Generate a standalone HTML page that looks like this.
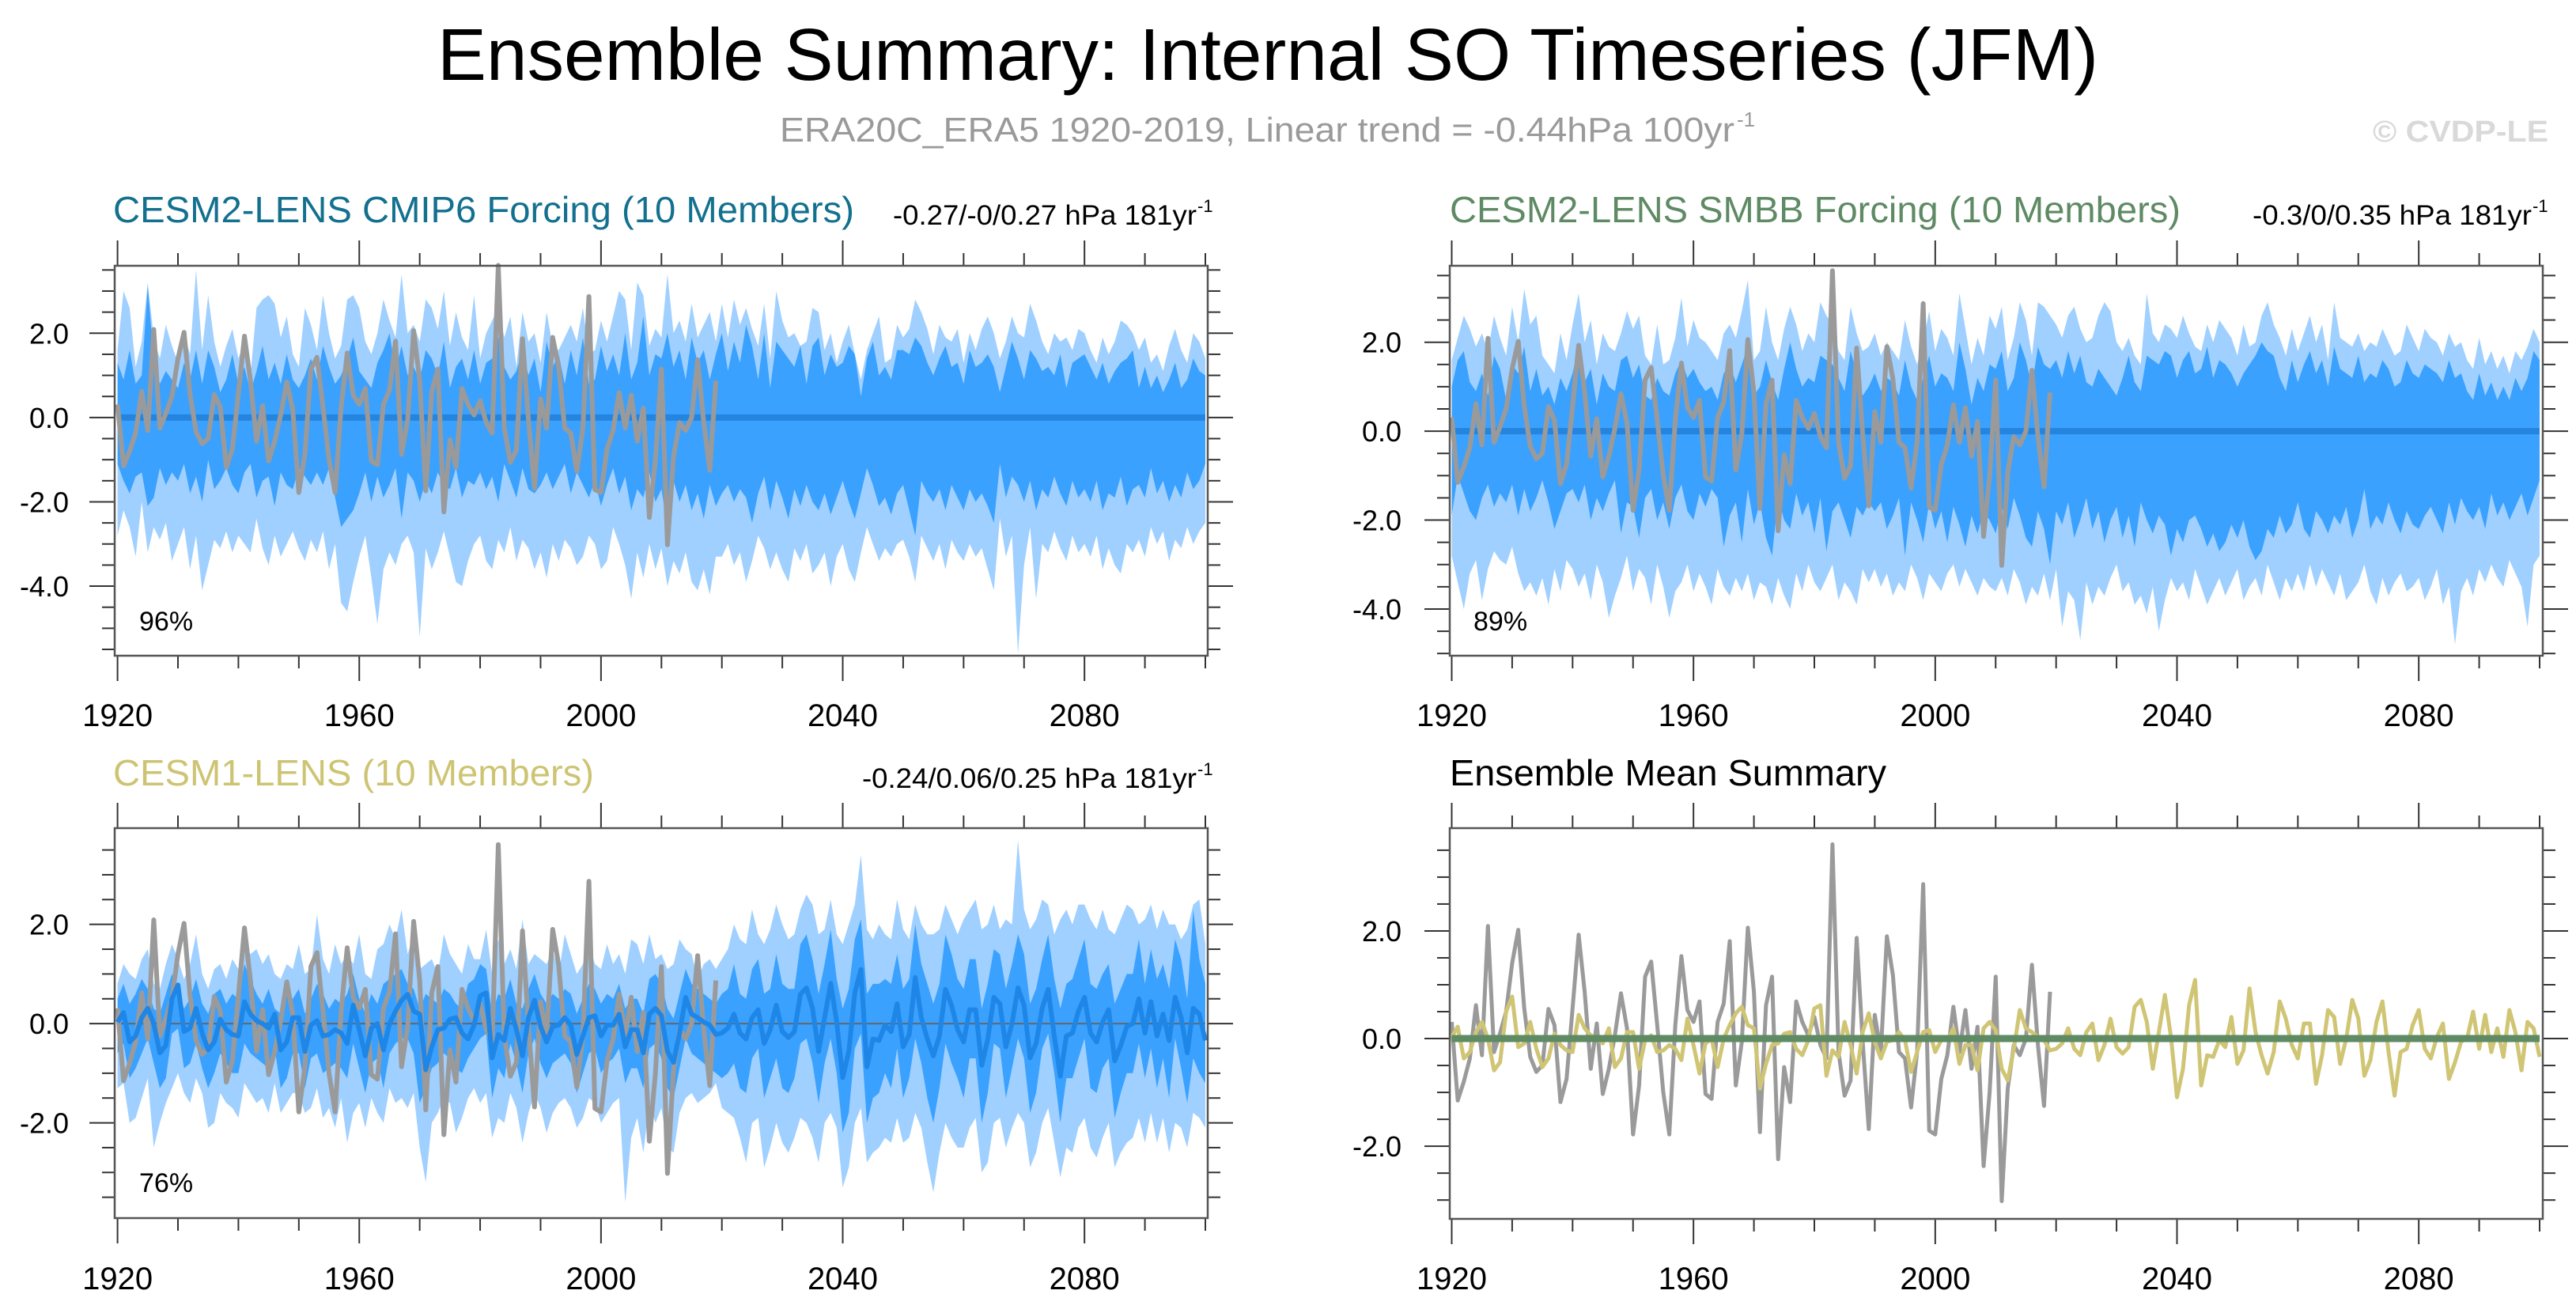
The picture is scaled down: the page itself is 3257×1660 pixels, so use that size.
<!DOCTYPE html>
<html>
<head>
<meta charset="utf-8">
<style>
html,body{margin:0;padding:0;background:#fff;}
svg{display:block;font-family:"Liberation Sans",Arial,sans-serif;}
</style>
</head>
<body>
<svg id="fig" width="3257" height="1660" viewBox="0 0 3257 1660" xmlns="http://www.w3.org/2000/svg">
<rect x="0" y="0" width="3257" height="1660" fill="#fff"/>
<text x="553" y="101" font-size="93" textLength="2100" lengthAdjust="spacingAndGlyphs" fill="#000">Ensemble Summary: Internal SO Timeseries (JFM)</text>
<text x="986" y="179" font-size="44" textLength="1207" lengthAdjust="spacingAndGlyphs" fill="#9a9a9a">ERA20C_ERA5 1920-2019, Linear trend = -0.44hPa 100yr</text>
<text x="2196" y="160" font-size="26" fill="#9a9a9a">-1</text>
<text x="3000" y="179" font-size="38" font-weight="bold" textLength="222" lengthAdjust="spacingAndGlyphs" fill="#d9d9d9">© CVDP-LE</text>

<text x="143" y="281" font-size="46" textLength="937" lengthAdjust="spacingAndGlyphs" fill="#13708e">CESM2-LENS CMIP6 Forcing (10 Members)</text>
<text x="1129" y="284" font-size="35" textLength="384" lengthAdjust="spacingAndGlyphs" fill="#000">-0.27/-0/0.27 hPa 181yr</text>
<text x="1514" y="268" font-size="22" fill="#000">-1</text>

<text x="1833" y="281" font-size="46" textLength="924" lengthAdjust="spacingAndGlyphs" fill="#5e8a64">CESM2-LENS SMBB Forcing (10 Members)</text>
<text x="2848" y="284" font-size="35" textLength="353" lengthAdjust="spacingAndGlyphs" fill="#000">-0.3/0/0.35 hPa 181yr</text>
<text x="3202" y="268" font-size="22" fill="#000">-1</text>

<text x="143" y="993" font-size="46" textLength="608" lengthAdjust="spacingAndGlyphs" fill="#cdc473">CESM1-LENS (10 Members)</text>
<text x="1090" y="996" font-size="35" textLength="423" lengthAdjust="spacingAndGlyphs" fill="#000">-0.24/0.06/0.25 hPa 181yr</text>
<text x="1514" y="980" font-size="22" fill="#000">-1</text>

<text x="1833" y="993" font-size="46" textLength="552" lengthAdjust="spacingAndGlyphs" fill="#000">Ensemble Mean Summary</text>

<g id="plots"></g>

<text x="176" y="797" font-size="34" fill="#000">96%</text>
<text x="1863" y="797" font-size="34" fill="#000">89%</text>
<text x="176" y="1507" font-size="34" fill="#000">76%</text>
</svg>

<script>
// ---------- DATA ----------
const startYear = 1920;
const endYear = 2100;
const xTickYears = [1920, 1960, 2000, 2040, 2080];
const yTickValues = [2, 0, -2, -4];
const yTickLabels = ["2.0", "0.0", "-2.0", "-4.0"];

// Observations ERA20C_ERA5 1920-2019
const obsValues = [
0.31,-1.15,-0.8,-0.37,0.62,-0.31,2.09,-0.25,0.1,0.5,
1.4,2.02,0.56,-0.34,-0.62,-0.5,0.55,0.25,-1.18,-0.75,
0.56,1.93,0.87,-0.56,0.28,-1.03,-0.56,0.06,0.84,0.19,
-1.78,-0.87,1.15,1.43,0.25,-1.0,-1.78,0.25,1.53,0.53,
0.31,0.69,-1.03,-1.12,0.31,0.65,1.81,-0.87,-0.06,2.06,
0.87,-1.74,0.62,1.15,-2.24,-0.53,-1.18,0.69,0.31,0.06,
0.4,-0.12,-0.37,3.61,-0.25,-1.06,-0.78,1.87,-0.06,-1.68,
0.44,-0.25,1.9,1.18,-0.25,-0.37,-1.28,-0.25,2.87,-1.71,
-1.78,-0.75,-0.31,0.59,-0.25,0.53,-0.56,0.22,-2.37,-1.0,
1.15,-3.02,-0.93,-0.12,-0.31,0.0,1.37,-0.12,-1.25,0.87];

// CESM1-LENS ensemble mean 1920-2100
const cesm1Mean = [
0.03,0.22,-0.37,-0.25,0.12,0.31,0.0,-0.59,-0.44,0.5,
0.78,-0.16,-0.09,0.31,-0.19,-0.53,-0.37,0.09,-0.12,-0.22,
-0.25,0.44,0.19,0.06,0.0,-0.09,0.19,-0.53,-0.37,0.12,
0.12,-0.56,-0.03,0.06,-0.25,-0.22,-0.12,-0.19,-0.4,0.37,
-0.12,-0.65,-0.09,0.0,-0.53,0.0,0.25,0.47,0.59,0.25,
0.19,-0.93,-0.47,-0.12,-0.09,0.09,0.12,-0.19,-0.31,-0.03,
0.56,0.62,-0.69,-0.22,-0.34,0.31,-0.12,-0.65,0.12,0.47,
-0.06,-0.37,-0.06,-0.03,0.12,-0.03,-0.62,-0.25,0.12,0.16,
-0.25,-0.03,-0.03,0.19,-0.47,-0.12,-0.12,-0.59,0.19,0.31,
0.16,-0.56,-0.78,-0.19,0.53,0.19,0.12,0.03,-0.03,-0.22,
-0.19,-0.09,0.19,-0.19,-0.31,0.12,0.28,-0.4,-0.12,0.37,
-0.16,-0.28,-0.16,0.59,0.72,0.31,-0.56,0.12,0.81,0.03,
-1.09,-0.56,0.62,1.09,-0.87,-0.31,-0.34,-0.03,-0.16,0.4,
-0.47,-0.22,0.93,0.12,-0.31,-0.65,-0.25,0.69,0.37,-0.12,
-0.37,0.28,0.28,-0.84,-0.31,0.53,0.4,-0.47,0.0,0.72,
0.37,-0.69,-0.4,0.31,0.69,-0.25,-1.06,-0.25,-0.19,0.25,
0.53,-0.19,-0.37,0.03,0.28,-0.75,-0.44,-0.06,0.0,0.5,
-0.19,0.44,-0.25,0.19,-0.34,0.53,0.12,-0.59,0.31,0.19,
-0.34];

// CESM2-LENS CMIP6 ensemble spread (light = outer, dark = inner)
const p1LightTop = [
1.6,3.0,2.6,1.2,1.8,3.2,1.9,1.4,2.2,1.7,
1.3,2.0,1.5,3.5,1.6,2.9,1.8,1.2,1.7,2.1,
1.4,1.8,1.0,2.6,2.8,2.9,2.7,1.9,2.4,1.5,
1.2,2.6,2.2,1.6,2.9,2.0,1.4,1.7,2.8,2.9,
2.6,1.8,1.5,2.0,2.8,2.3,1.9,3.4,2.0,2.2,
1.8,2.8,2.6,2.1,3.0,1.7,2.5,1.9,1.6,2.9,
1.4,2.0,2.3,2.6,1.9,2.4,1.2,2.5,1.8,2.0,
1.3,2.5,1.7,1.6,1.9,2.2,1.8,2.6,1.5,1.6,
2.3,1.8,2.4,3.0,2.8,1.6,3.2,2.9,1.7,2.1,
1.9,3.4,2.0,2.3,1.8,2.7,1.9,2.2,2.5,1.8,
2.7,1.9,2.8,2.2,2.6,2.1,1.7,2.7,1.4,3.0,
2.3,1.9,2.0,1.7,1.8,2.6,2.5,1.6,2.0,1.3,
1.8,2.2,1.5,0.9,1.6,2.0,2.4,1.3,1.4,2.2,
1.9,2.1,2.8,2.5,2.1,1.5,2.2,1.9,1.8,2.1,
1.3,2.0,1.6,2.1,2.4,2.0,1.4,1.8,2.4,2.0,
1.9,2.7,2.3,1.8,1.5,2.0,1.8,1.9,1.6,2.1,
2.0,1.6,1.3,1.9,1.5,1.8,2.3,2.2,2.0,1.6,
1.9,1.3,1.5,1.1,1.7,2.1,1.6,1.3,2.0,1.8,
1.4];
const p1DarkTop = [
1.3,0.9,1.6,0.8,1.0,3.1,1.4,0.8,1.1,0.9,
0.7,1.3,0.9,1.6,0.8,1.6,1.2,0.6,0.9,1.5,
0.8,1.2,0.6,1.1,1.7,0.9,1.3,0.8,1.5,0.9,
0.7,1.0,1.4,0.9,1.7,1.2,0.8,1.0,1.4,1.9,
1.1,0.9,0.7,1.3,1.6,2.0,1.1,1.7,1.0,1.2,
0.9,1.6,1.4,1.0,1.8,0.7,1.2,1.4,0.9,1.6,
0.8,1.3,1.4,1.9,1.2,0.9,1.1,1.6,1.0,1.4,
0.6,1.8,1.2,1.5,0.8,1.6,1.0,1.9,0.8,0.9,
1.7,1.1,1.5,1.0,2.0,0.9,1.3,2.4,1.0,1.5,
1.4,2.0,1.2,1.6,0.9,1.9,1.3,1.6,0.9,1.5,
2.0,1.1,1.8,1.3,2.2,1.7,0.9,2.0,0.7,1.8,
1.6,1.4,1.2,1.7,0.8,1.7,1.9,1.0,1.5,1.2,
1.3,1.7,1.5,0.5,1.4,1.8,1.0,1.2,0.9,1.6,
1.6,1.5,1.9,1.7,1.3,1.0,1.4,1.7,1.2,1.3,
0.8,1.6,1.2,1.3,1.5,1.2,0.6,1.2,1.8,1.4,
0.9,1.6,1.4,1.1,1.2,1.0,1.5,0.7,1.3,1.4,
1.5,1.2,0.9,1.3,0.8,1.1,1.3,1.4,1.6,0.7,
1.2,0.7,1.0,0.6,0.9,1.3,0.7,0.9,1.4,1.1,
1.0];
const p1DarkBottom = [
-1.1,-1.5,-1.8,-1.4,-1.3,-2.1,-1.9,-1.2,-1.6,-1.3,
-1.5,-1.1,-1.8,-1.4,-2.0,-1.0,-1.7,-1.5,-1.2,-1.6,
-1.8,-1.3,-1.1,-1.9,-1.5,-1.4,-2.1,-1.3,-1.6,-1.7,
-1.2,-1.4,-1.6,-1.3,-1.6,-1.2,-1.9,-2.6,-2.4,-2.2,
-1.8,-1.3,-2.0,-1.4,-1.9,-1.6,-1.2,-2.4,-1.3,-1.5,
-2.0,-1.5,-1.8,-1.3,-1.6,-1.7,-1.2,-1.9,-1.5,-1.6,
-1.3,-1.7,-1.4,-2.0,-1.1,-1.5,-1.9,-1.2,-1.7,-1.8,
-1.6,-1.3,-1.7,-1.4,-1.1,-1.8,-1.3,-1.6,-1.9,-1.5,
-2.1,-1.6,-1.2,-1.8,-1.4,-2.2,-1.7,-1.9,-1.3,-2.0,
-1.7,-2.6,-1.5,-2.0,-1.6,-2.2,-1.8,-2.4,-1.6,-2.1,
-1.8,-1.6,-2.0,-1.7,-1.9,-2.5,-1.8,-1.4,-2.2,-1.5,
-1.9,-2.4,-1.7,-2.1,-1.6,-2.0,-2.2,-1.8,-2.3,-1.9,
-1.5,-2.0,-2.4,-1.8,-1.2,-1.6,-2.1,-1.9,-2.3,-1.8,
-1.6,-2.2,-2.8,-1.5,-1.8,-2.0,-1.7,-2.2,-1.6,-1.9,
-2.2,-1.7,-2.0,-1.8,-2.1,-2.5,-1.1,-1.9,-1.4,-1.6,
-2.0,-1.5,-2.2,-1.7,-1.9,-1.4,-1.8,-2.1,-1.5,-1.9,
-1.7,-2.0,-1.5,-2.2,-1.8,-1.9,-1.4,-2.1,-1.7,-1.6,
-1.9,-1.2,-1.8,-1.5,-2.0,-1.6,-1.9,-1.3,-1.7,-1.5,
-1.1];
const p1LightBottom = [
-2.8,-2.2,-2.6,-3.3,-2.0,-3.2,-2.6,-2.9,-2.5,-3.4,
-3.0,-2.6,-3.6,-2.8,-4.1,-3.5,-2.9,-3.1,-2.7,-3.2,
-2.8,-3.0,-3.2,-2.4,-3.1,-3.5,-2.8,-3.3,-3.0,-2.7,
-3.1,-3.4,-2.9,-3.2,-2.7,-3.6,-3.0,-4.4,-4.6,-3.9,
-3.3,-2.8,-3.8,-4.9,-3.6,-3.2,-3.5,-3.0,-2.8,-3.2,
-5.2,-3.1,-3.6,-3.2,-2.7,-3.3,-3.9,-4.0,-3.4,-3.0,
-2.8,-3.4,-3.6,-2.9,-3.2,-2.6,-3.4,-2.9,-3.1,-3.6,
-3.2,-3.8,-3.0,-3.4,-2.9,-3.1,-3.5,-3.3,-2.8,-3.0,
-3.6,-3.4,-2.6,-3.0,-3.5,-4.3,-3.2,-3.8,-3.0,-3.6,
-3.1,-4.0,-3.4,-3.7,-3.2,-3.9,-4.1,-3.6,-4.2,-3.3,
-3.3,-3.0,-3.5,-3.2,-3.9,-3.4,-2.8,-3.1,-3.6,-3.2,
-3.6,-3.9,-3.1,-3.4,-3.0,-3.7,-3.5,-3.2,-4.0,-3.3,
-3.0,-3.6,-3.9,-3.2,-2.6,-3.0,-3.4,-3.1,-3.3,-3.0,
-2.9,-3.3,-3.9,-2.8,-3.1,-3.4,-3.0,-3.6,-2.9,-3.2,
-3.4,-3.0,-3.3,-3.1,-3.6,-4.1,-2.4,-3.3,-2.8,-5.6,
-3.5,-2.6,-4.3,-3.0,-3.2,-2.7,-3.1,-3.4,-2.8,-3.2,
-3.0,-3.3,-2.8,-3.6,-3.1,-3.5,-3.7,-3.0,-3.2,-2.9,
-3.3,-2.6,-3.0,-2.7,-3.4,-2.9,-3.1,-2.6,-3.0,-2.7,
-2.5];

// CESM2-LENS SMBB ensemble spread
const p2LightTop = [
1.6,2.1,2.6,2.3,1.9,2.2,1.8,2.6,2.1,1.7,
2.8,2.0,3.2,2.4,2.6,1.7,1.5,1.3,2.2,1.6,
2.4,3.1,2.0,2.5,1.5,2.2,1.9,1.8,2.2,2.7,
2.3,2.6,1.7,1.5,2.4,1.5,1.6,2.1,3.0,1.9,
2.5,2.1,2.0,1.8,1.6,2.2,2.4,2.1,2.7,3.4,
1.6,1.8,2.8,2.0,1.6,2.3,2.8,2.4,1.8,2.2,
2.0,2.9,2.6,2.4,1.8,1.6,2.8,2.2,1.8,1.9,
2.2,1.7,2.0,1.8,1.6,2.5,1.9,1.5,2.0,2.7,
1.8,2.3,2.1,1.7,3.1,2.3,1.5,2.1,1.7,2.6,
2.3,2.8,1.6,2.1,2.9,2.5,1.7,2.9,2.8,2.6,
2.4,2.1,2.6,2.8,2.3,2.0,2.1,2.6,2.9,2.7,
2.0,1.8,2.1,1.7,1.5,3.1,2.2,2.0,2.4,2.3,
2.1,2.6,2.2,1.9,1.8,2.4,2.0,2.5,2.3,2.1,
1.7,2.4,1.9,2.0,2.6,2.9,2.4,2.1,1.7,2.3,
1.8,2.2,2.6,2.0,2.4,1.6,2.9,2.1,2.0,1.9,
2.2,1.8,2.0,1.9,2.3,2.0,1.7,1.8,2.4,2.1,
1.8,2.3,2.1,2.0,1.7,2.2,1.9,2.0,1.6,1.4,
2.1,1.5,1.8,1.4,1.7,1.3,1.8,1.6,1.9,2.3,
2.0];
const p2DarkTop = [
1.0,1.6,1.8,1.1,0.9,1.3,0.8,1.7,1.4,0.7,
1.5,1.3,1.9,0.9,1.4,0.8,1.0,0.6,1.2,0.9,
1.3,1.9,1.1,1.4,0.6,1.3,1.0,0.9,1.6,1.7,
1.2,1.5,0.8,0.7,1.2,0.9,0.8,1.3,1.6,1.2,
1.4,1.1,0.9,1.0,0.7,1.3,1.5,1.1,1.5,1.9,
0.8,1.0,1.6,1.1,0.7,1.4,2.0,1.4,1.0,1.2,
1.1,1.7,1.6,1.5,1.2,0.9,1.8,1.3,0.8,1.0,
1.3,0.9,1.2,1.1,0.8,1.6,1.0,0.7,1.2,1.7,
1.0,1.3,1.2,0.9,2.0,1.4,0.6,1.2,0.9,1.5,
1.4,1.8,0.9,1.2,2.0,1.6,1.0,1.9,1.5,1.4,
1.6,1.2,1.8,1.3,1.7,1.1,1.0,1.4,1.2,1.0,
0.8,1.2,1.7,1.1,0.9,1.7,1.6,1.5,1.8,1.7,
1.2,1.6,1.8,1.3,1.4,1.9,1.2,1.6,1.5,1.3,
1.0,1.3,1.5,1.7,2.0,1.8,1.7,1.2,0.9,1.6,
1.1,1.5,1.8,1.3,1.6,1.0,1.9,1.4,1.3,1.2,
1.7,1.1,1.3,1.2,1.6,1.4,1.0,1.1,1.6,1.3,
1.2,1.5,1.4,1.3,1.1,1.6,1.2,1.3,0.9,0.7,
1.3,0.8,1.1,0.7,1.0,0.7,1.2,0.9,1.2,1.8,
1.6];
const p2DarkBottom = [
-1.9,-1.0,-1.4,-1.8,-2.0,-1.5,-1.2,-1.7,-1.4,-1.6,
-1.2,-1.9,-1.3,-1.8,-1.5,-1.1,-1.6,-2.2,-1.8,-1.4,
-1.3,-1.6,-1.2,-2.0,-1.5,-1.8,-1.4,-1.1,-2.3,-1.6,
-1.7,-2.4,-1.5,-1.3,-2.0,-1.6,-2.2,-1.5,-1.2,-1.8,
-2.0,-1.4,-1.7,-1.3,-1.5,-2.6,-1.9,-1.6,-2.5,-1.3,
-2.1,-1.6,-2.4,-2.8,-1.5,-2.0,-2.2,-1.4,-1.9,-1.6,
-2.3,-1.5,-2.7,-1.8,-1.6,-2.0,-2.4,-1.7,-1.9,-1.6,
-1.8,-1.6,-2.2,-1.9,-1.5,-2.8,-1.6,-2.0,-2.5,-1.6,
-2.2,-1.8,-2.5,-1.7,-2.1,-2.6,-1.9,-2.3,-1.8,-2.0,
-2.3,-1.7,-2.2,-1.5,-1.9,-2.4,-2.6,-1.8,-2.2,-3.0,
-1.8,-2.1,-1.6,-2.4,-2.0,-1.5,-2.2,-1.8,-2.5,-2.0,
-1.7,-2.4,-1.9,-2.6,-1.6,-2.0,-2.3,-1.9,-2.1,-2.8,
-2.2,-2.5,-2.0,-1.9,-2.2,-2.6,-2.3,-2.7,-2.5,-2.1,
-2.4,-2.0,-2.6,-2.9,-2.7,-2.2,-2.4,-1.9,-2.3,-2.1,
-1.6,-2.2,-2.4,-1.8,-2.0,-2.3,-1.9,-2.1,-1.7,-2.4,
-2.0,-1.3,-2.2,-1.9,-2.1,-1.6,-2.0,-2.3,-1.8,-2.1,
-2.2,-1.9,-1.7,-2.0,-2.3,-1.6,-2.1,-1.5,-1.8,-2.0,
-1.7,-2.2,-1.4,-1.9,-1.6,-2.0,-1.7,-1.4,-1.9,-1.5,
-1.1];
const p2LightBottom = [
-2.8,-3.4,-4.0,-3.2,-2.9,-3.8,-3.1,-2.7,-2.9,-3.0,
-2.6,-3.2,-3.6,-3.4,-3.7,-3.3,-3.9,-3.1,-3.6,-2.9,
-3.1,-3.5,-3.2,-3.8,-3.0,-3.4,-4.2,-3.7,-3.3,-2.8,
-3.6,-3.1,-3.3,-3.9,-3.0,-3.5,-4.2,-3.6,-3.4,-3.0,
-3.6,-3.2,-3.5,-3.9,-3.1,-3.5,-3.7,-3.3,-3.6,-3.2,
-3.8,-3.4,-3.5,-3.9,-3.3,-3.7,-4.0,-3.2,-3.6,-3.0,
-3.4,-3.6,-3.3,-3.0,-3.8,-3.4,-3.6,-3.9,-3.1,-3.4,
-3.1,-3.5,-3.2,-3.7,-3.4,-3.6,-3.0,-3.3,-3.8,-3.2,
-3.4,-3.6,-3.2,-3.0,-3.5,-3.1,-3.4,-3.7,-3.3,-3.5,
-3.6,-3.3,-3.7,-3.1,-3.4,-3.9,-3.5,-3.7,-3.2,-3.8,
-3.1,-4.4,-3.6,-3.8,-4.7,-3.4,-3.9,-3.5,-3.7,-3.3,
-3.0,-3.6,-3.4,-3.9,-3.7,-4.1,-3.5,-4.5,-3.8,-3.3,
-3.6,-3.4,-3.8,-3.1,-3.5,-3.9,-3.6,-3.3,-3.7,-3.4,
-3.1,-3.8,-3.5,-3.3,-3.7,-3.0,-3.4,-3.8,-3.3,-3.6,
-3.2,-3.6,-3.0,-3.5,-3.1,-3.4,-3.7,-3.2,-3.8,-3.6,
-3.4,-3.0,-3.6,-3.9,-3.3,-3.7,-3.4,-3.2,-3.6,-3.5,
-3.3,-3.8,-3.5,-3.1,-3.9,-3.5,-4.8,-3.6,-3.3,-3.7,
-3.1,-3.4,-3.0,-3.3,-3.5,-2.9,-3.2,-3.5,-4.4,-3.0,
-2.8];

// CESM1-LENS ensemble spread
const p3LightTop = [
0.8,1.2,1.0,0.9,1.3,1.5,0.8,0.7,1.2,1.6,
1.3,0.9,1.2,1.8,1.0,0.7,1.1,1.2,0.9,1.3,
1.1,1.6,1.4,1.5,1.2,1.4,1.0,0.9,1.2,1.1,
1.6,1.0,1.1,2.2,1.3,1.0,1.6,1.2,1.4,1.2,
1.8,1.0,0.9,1.5,1.6,2.0,1.7,2.3,1.4,1.8,
1.1,1.2,1.3,1.0,1.8,1.4,1.2,1.0,1.6,1.3,
1.3,1.9,1.0,1.7,1.2,1.5,1.1,2.1,1.2,1.4,
1.3,1.2,1.5,1.0,1.8,1.4,1.0,1.2,1.6,1.2,
1.1,1.6,1.2,1.4,1.0,1.7,1.6,1.2,1.8,1.3,
1.4,1.1,1.2,1.7,1.5,1.4,0.9,1.2,1.3,1.1,
1.3,1.5,2.0,1.7,1.6,2.3,1.8,1.6,1.9,2.4,
2.0,1.7,1.8,2.3,2.6,2.4,1.8,1.9,2.5,1.8,
1.6,2.0,2.4,3.4,1.9,1.7,2.0,1.8,1.7,2.5,
1.9,1.7,2.4,2.0,1.8,1.8,1.9,2.4,2.1,1.8,
2.1,2.3,2.5,1.9,2.0,2.4,1.9,2.1,2.0,3.7,
2.3,1.9,2.1,2.5,2.4,1.8,2.1,2.3,2.0,2.4,
2.4,2.1,1.9,2.3,1.9,1.8,2.1,2.4,2.3,2.0,
2.1,2.4,1.9,2.3,2.0,2.0,1.7,1.9,2.4,2.5,
1.6];
const p3DarkTop = [
0.5,0.8,0.4,0.6,0.9,0.7,0.3,0.2,0.6,1.0,
0.7,0.3,0.5,0.9,0.4,0.2,0.6,0.7,0.4,0.6,
0.5,1.2,0.9,0.6,0.4,0.7,0.3,0.2,0.6,0.5,
0.7,0.2,0.5,0.8,0.6,0.3,0.5,0.4,0.6,1.0,
0.5,0.2,0.6,0.4,0.8,0.9,1.0,1.1,0.8,0.7,
0.3,0.6,0.5,0.4,0.7,0.6,0.4,0.3,0.8,0.9,
1.2,1.1,0.2,0.6,0.5,0.9,0.4,0.3,0.7,1.0,
0.6,0.4,0.6,0.5,0.7,0.6,0.2,0.5,0.8,0.7,
0.4,0.6,0.5,0.8,0.3,0.5,0.5,0.2,0.9,1.0,
0.8,0.3,0.1,0.6,1.1,0.8,0.7,0.6,0.5,0.4,
0.6,0.7,1.2,0.6,0.5,1.1,1.3,0.6,0.7,1.4,
0.8,0.7,0.7,1.6,1.8,1.3,0.6,1.2,1.9,0.9,
0.3,0.7,1.7,2.1,0.6,0.8,0.8,0.9,0.8,1.4,
0.7,0.9,2.0,1.2,0.8,0.4,0.8,1.8,1.4,0.9,
0.7,1.3,1.3,0.3,0.8,1.5,1.4,0.7,1.2,1.8,
1.4,0.4,0.7,1.3,1.8,0.9,0.3,0.8,0.9,1.3,
1.7,0.8,0.7,1.0,1.2,0.4,0.7,1.0,1.0,1.7,
0.8,1.5,0.9,1.2,0.7,1.7,1.3,0.5,2.3,1.3,
0.8];
const p3DarkBottom = [
-0.6,-0.4,-1.1,-0.9,-0.6,-0.3,-0.8,-1.3,-1.1,-0.2,
-0.1,-0.9,-0.8,-0.4,-0.9,-1.3,-1.0,-0.6,-0.8,-1.0,
-1.0,-0.4,-0.6,-0.7,-0.8,-0.9,-0.5,-1.3,-1.1,-0.6,
-0.6,-1.3,-0.7,-0.6,-1.0,-0.9,-0.8,-0.9,-1.1,-0.4,
-0.9,-1.4,-0.8,-0.7,-1.3,-0.6,-0.4,-0.3,-0.3,-0.6,
-1.6,-1.3,-0.9,-0.8,-0.6,-0.7,-0.9,-1.0,-0.7,-0.5,
-0.3,-0.2,-1.5,-0.9,-1.1,-0.4,-0.8,-1.4,-0.6,-0.3,
-0.8,-1.1,-0.8,-0.7,-0.6,-0.8,-1.4,-1.0,-0.6,-0.5,
-1.0,-0.8,-0.7,-0.5,-1.2,-0.9,-0.9,-1.3,-0.5,-0.4,
-0.7,-1.3,-1.5,-0.9,-0.3,-0.6,-0.7,-0.8,-0.9,-1.0,
-1.1,-1.0,-0.8,-1.3,-1.4,-0.7,-0.5,-1.5,-1.1,-0.7,
-1.3,-1.4,-1.1,-0.4,-0.3,-0.8,-1.6,-0.8,-0.3,-1.0,
-2.2,-1.8,-0.5,-0.2,-2.0,-1.5,-1.4,-1.0,-1.3,-0.5,
-1.5,-1.1,-0.3,-0.8,-1.5,-2.0,-1.3,-0.4,-0.8,-1.1,
-1.5,-0.7,-0.7,-2.0,-1.4,-0.4,-0.5,-1.5,-0.9,-0.3,
-0.7,-1.8,-1.4,-0.5,-0.2,-1.0,-2.0,-1.1,-1.1,-0.7,
-0.3,-1.3,-1.4,-0.9,-0.7,-1.9,-1.4,-1.0,-1.0,-0.4,
-1.1,-0.5,-1.3,-0.7,-1.5,-0.3,-0.9,-1.6,-0.7,-1.0,
-1.2];
const p3LightBottom = [
-1.3,-1.2,-2.0,-1.9,-1.5,-1.1,-2.5,-2.0,-1.6,-1.3,
-1.0,-1.4,-1.6,-1.1,-1.4,-2.1,-2.0,-1.4,-1.6,-1.7,
-1.9,-1.2,-1.4,-1.6,-1.5,-1.8,-1.2,-1.8,-1.6,-1.4,
-1.4,-1.8,-1.7,-1.3,-1.9,-1.7,-2.1,-1.5,-2.4,-1.8,
-1.6,-2.1,-1.5,-1.8,-2.0,-1.3,-1.6,-1.5,-1.7,-1.4,
-2.5,-3.2,-2.0,-1.8,-1.5,-1.6,-2.2,-1.9,-1.5,-1.3,
-1.6,-1.4,-2.3,-1.9,-2.0,-1.4,-1.7,-2.4,-1.8,-1.4,
-1.7,-2.2,-1.8,-1.6,-1.5,-1.7,-2.1,-1.9,-1.5,-1.6,
-2.0,-1.8,-1.6,-1.5,-3.6,-2.3,-1.9,-2.6,-1.6,-2.0,
-1.7,-2.5,-2.6,-1.8,-1.5,-1.4,-1.6,-1.5,-1.4,-1.2,
-1.7,-1.8,-1.9,-2.3,-2.8,-2.0,-1.9,-2.9,-2.5,-2.0,
-2.4,-2.6,-2.3,-1.9,-2.0,-2.3,-2.8,-2.0,-1.8,-2.1,
-3.3,-2.9,-2.0,-1.7,-2.8,-2.6,-2.5,-2.3,-2.4,-1.9,
-2.4,-2.3,-1.8,-2.1,-2.8,-3.4,-2.6,-2.0,-2.3,-2.5,
-2.5,-2.1,-1.9,-3.0,-2.8,-2.0,-1.9,-2.5,-2.1,-1.8,
-2.0,-2.9,-2.6,-2.0,-1.7,-2.4,-3.1,-2.5,-2.6,-2.1,
-1.9,-2.5,-2.7,-2.3,-2.0,-2.9,-2.6,-2.4,-2.3,-1.9,
-2.4,-1.8,-2.4,-1.9,-2.6,-2.0,-2.1,-2.5,-1.8,-1.9,
-2.1];

// CESM2 ensemble means (shown as zero lines)
const cesm2Mean = [0, 0];

// ---------- DRAWING ----------
const NS = "http://www.w3.org/2000/svg";
const root = document.getElementById("plots");
const LIGHT = "#a0d0ff", DARK = "#3aa1ff", MEANBLUE = "#2484de", OBS = "#9a9a9a";

const panels = [
 {id:"panel1", bx0:145, bx1:1527, by0:336, by1:829, px0:148.6, px1:1524, ymax:3.60, ymin:-5.65, labX:87,  xlabY:918},
 {id:"panel2", bx0:1833,bx1:3215, by0:336, by1:829, px0:1835.5,px1:3211, ymax:3.72, ymin:-5.05, labX:1772,xlabY:918},
 {id:"panel3", bx0:145, bx1:1527, by0:1047,by1:1540,px0:148.6, px1:1524, ymax:3.94, ymin:-3.92, labX:87,  xlabY:1630},
 {id:"panel4", bx0:1833,bx1:3215, by0:1047,by1:1541,px0:1835.5,px1:3211, ymax:3.91, ymin:-3.35, labX:1772,xlabY:1630}
];

function sx(p, year){ return p.px0 + (year - startYear) * (p.px1 - p.px0) / (endYear - startYear); }
function sy(p, v){ return p.by0 + (p.ymax - v) * (p.by1 - p.by0) / (p.ymax - p.ymin); }
function mk(tag, attrs){ const e = document.createElementNS(NS, tag); for (const k in attrs) e.setAttribute(k, attrs[k]); return e; }

function bandPoints(p, upper, lower){
  const pts = [];
  for (let i = 0; i < upper.length; i++) pts.push(sx(p, startYear + i).toFixed(1) + "," + sy(p, upper[i]).toFixed(1));
  for (let i = lower.length - 1; i >= 0; i--) pts.push(sx(p, startYear + i).toFixed(1) + "," + sy(p, lower[i]).toFixed(1));
  return pts.join(" ");
}
function linePoints(p, vals){
  const pts = [];
  for (let i = 0; i < vals.length; i++) pts.push(sx(p, startYear + i).toFixed(1) + "," + sy(p, vals[i]).toFixed(1));
  return pts.join(" ");
}

function drawBand(g, p, upper, lower, color, name){
  const el = mk("polygon", {points: bandPoints(p, upper, lower), fill: color, stroke: "none"});
  
  
  g.appendChild(el);
}
function drawLine(g, p, vals, color, width, name){
  const el = mk("polyline", {points: linePoints(p, vals), fill: "none", stroke: color, "stroke-width": width, "stroke-linejoin": "round"});
  
  
  g.appendChild(el);
}
function drawZero(g, p, color, width, name){
  const el = mk("line", {x1: sx(p, startYear), x2: sx(p, endYear), y1: sy(p, cesm2Mean[0]), y2: sy(p, cesm2Mean[1]), stroke: color, "stroke-width": width});
  
  
  g.appendChild(el);
}

function drawAxes(g, p){
  const tickColor = "#333";
  const start = Math.ceil(p.ymin / 0.5) * 0.5;
  for (let v = start; v <= p.ymax + 1e-9; v += 0.5) {
    const y = sy(p, v);
    const major = Math.abs(v / 2 - Math.round(v / 2)) < 1e-6;
    const len = major ? 32 : 16;
    const tl = mk("line", {x1: p.bx0, x2: p.bx0 - len, y1: y, y2: y, stroke: tickColor, "stroke-width": 2});
    
    
    g.appendChild(tl);
    const tr = mk("line", {x1: p.bx1, x2: p.bx1 + len, y1: y, y2: y, stroke: tickColor, "stroke-width": 2});
    
    
    g.appendChild(tr);
  }
  for (let i = 0; i < yTickValues.length; i++) {
    const v = yTickValues[i];
    if (v < p.ymin || v > p.ymax) continue;
    const t = mk("text", {x: p.labX, y: sy(p, v) + 13, "font-size": 36, "text-anchor": "end", fill: "#000"});
    t.textContent = yTickLabels[i];
    
    
    g.appendChild(t);
  }
  for (let yr = startYear; yr <= endYear; yr += 10) {
    const x = sx(p, yr);
    const major = (yr - startYear) % 40 === 0;
    const len = major ? 32 : 16;
    const tt = mk("line", {x1: x, x2: x, y1: p.by0, y2: p.by0 - len, stroke: tickColor, "stroke-width": 2});
    
    
    g.appendChild(tt);
    const tb = mk("line", {x1: x, x2: x, y1: p.by1, y2: p.by1 + len, stroke: tickColor, "stroke-width": 2});
    
    
    g.appendChild(tb);
  }
  for (let i = 0; i < xTickYears.length; i++) {
    const t = mk("text", {x: sx(p, xTickYears[i]), y: p.xlabY, "font-size": 40, "text-anchor": "middle", fill: "#000"});
    t.textContent = String(xTickYears[i]);
    
    
    g.appendChild(t);
  }
  const fr = mk("rect", {x: p.bx0, y: p.by0, width: p.bx1 - p.bx0, height: p.by1 - p.by0, fill: "none", stroke: "#555", "stroke-width": 2.5});
  
  
  g.appendChild(fr);
}

function panelGroup(p){
  const g = mk("g", {id: p.id});
  
  
  root.appendChild(g);
  return g;
}

{
  const p = panels[0], g = panelGroup(p);
  drawBand(g, p, p1LightTop, p1LightBottom, LIGHT, "outer-spread-band");
  drawBand(g, p, p1DarkTop, p1DarkBottom, DARK, "inner-spread-band");
  drawZero(g, p, MEANBLUE, 8, "ensemble-mean-line");
  drawLine(g, p, obsValues, OBS, 6, "observations-line");
  drawAxes(g, p);
}
{
  const p = panels[1], g = panelGroup(p);
  drawBand(g, p, p2LightTop, p2LightBottom, LIGHT, "outer-spread-band");
  drawBand(g, p, p2DarkTop, p2DarkBottom, DARK, "inner-spread-band");
  drawZero(g, p, MEANBLUE, 8, "ensemble-mean-line");
  drawLine(g, p, obsValues, OBS, 6, "observations-line");
  drawAxes(g, p);
}
{
  const p = panels[2], g = panelGroup(p);
  drawBand(g, p, p3LightTop, p3LightBottom, LIGHT, "outer-spread-band");
  drawBand(g, p, p3DarkTop, p3DarkBottom, DARK, "inner-spread-band");
  drawZero(g, p, "#666", 2, "zero-reference-line");
  drawLine(g, p, obsValues, OBS, 6, "observations-line");
  drawLine(g, p, cesm1Mean, "#1e86e6", 6, "ensemble-mean-line");
  drawAxes(g, p);
}
{
  const p = panels[3], g = panelGroup(p);
  drawZero(g, p, "#333", 2, "zero-reference-line");
  drawLine(g, p, obsValues, OBS, 5, "observations-line");
  drawLine(g, p, cesm1Mean, "#cfc574", 5, "cesm1-mean-line");
  drawZero(g, p, "#5e8a64", 9, "cesm2-mean-line");
  drawAxes(g, p);
}
</script>
</body>
</html>
